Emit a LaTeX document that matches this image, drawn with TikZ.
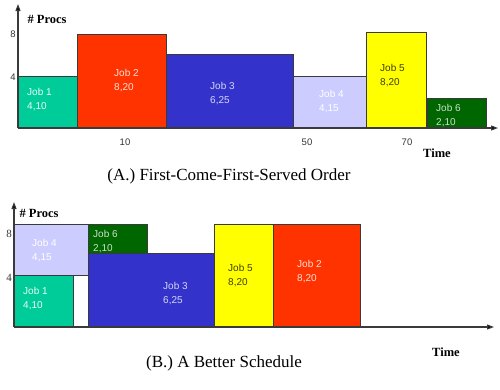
\documentclass[tikz,border=0pt]{standalone}
\usepackage{fontspec}
\setmainfont{Liberation Serif}
\newfontfamily\boxfont{Liberation Sans}
\usetikzlibrary{arrows.meta}
\definecolor{cjone}{HTML}{00CC99}
\definecolor{cjtwo}{HTML}{FF3300}
\definecolor{cjthree}{HTML}{3333CC}
\definecolor{cjfour}{HTML}{CCCCFF}
\definecolor{cjfive}{HTML}{FFFF00}
\definecolor{cjsix}{HTML}{006600}
\definecolor{edgegray}{HTML}{3A3A3A}
\definecolor{ticktext}{HTML}{333333}
\tikzset{
  jobbox/.style={draw=edgegray, line width=0.9pt, inner sep=0pt, outer sep=0pt, anchor=north west},
  joblabel/.style={anchor=north west, inner sep=0pt, align=left, font={\boxfont\fontsize{10}{14.5}\selectfont}},
  axisline/.style={draw=edgegray, line width=1.1pt},
  axisarrow/.style={axisline, -{Triangle[length=7pt,width=5pt,fill=black]}},
  ticklab/.style={inner sep=0pt, text=ticktext, font={\boxfont\fontsize{9.5}{10}\selectfont}},
  serifticklab/.style={inner sep=0pt, text=ticktext, font={\fontsize{11}{12}\selectfont}},
  axlabel/.style={inner sep=0pt, font={\bfseries\fontsize{12.5}{13}\selectfont}},
  caption/.style={inner sep=0pt, font={\fontsize{17}{19}\selectfont}}
}
\begin{document}
\begin{tikzpicture}[x=1pt,y=-1pt]
\useasboundingbox (0,0) rectangle (500,389);
% ---------- (A) ----------
\coordinate (oA) at (18,128);
\coordinate (yA) at (18,4);
\coordinate (xA) at (498,128);
\node[jobbox, fill=cjone,   minimum width=59pt,  minimum height=52pt] (a1) at (18,76) {};
\node[jobbox, fill=cjtwo,   minimum width=89pt,  minimum height=94pt] (a2) at (77,34) {};
\node[jobbox, fill=cjthree, minimum width=127pt, minimum height=74pt] (a3) at (166,54) {};
\node[jobbox, fill=cjfour,  minimum width=73pt,  minimum height=52pt] (a4) at (293,76) {};
\node[jobbox, fill=cjfive,  minimum width=60pt,  minimum height=96pt] (a5) at (366,32) {};
\node[jobbox, fill=cjsix,   minimum width=59pt,  minimum height=30pt] (a6) at (427,98) {};
\draw[axisarrow] (oA) -- (yA);
\draw[axisarrow] (oA) -- (xA);
\node[joblabel, text=white!92!cjone] (ta1) at (27,88) {Job 1\\4,10};
\node[joblabel, text=white!85!cjtwo] (ta2) at (114,69) {Job 2\\8,20};
\node[joblabel, text=white!80!cjthree] (ta3) at (210,82) {Job 3\\6,25};
\node[joblabel, text=white] (ta4) at (319,90) {Job 4\\4,15};
\node[joblabel, text=black!75!cjfive] (ta5) at (380,64) {Job 5\\8,20};
\node[joblabel, text=white!80!cjsix] (ta6) at (436,104) {Job 6\\2,10};
\node[axlabel] (pa) at (47,19) {\# Procs};
\node[ticklab] (ya8) at (13,34) {8};
\node[ticklab] (ya4) at (13,77) {4};
\node[ticklab] (xa10) at (125,142) {10};
\node[ticklab] (xa50) at (307,142) {50};
\node[ticklab] (xa70) at (407,142) {70};
\node[axlabel] (ta) at (437,153) {Time};
\node[caption] (ca) at (229,176) {(A.) First-Come-First-Served Order};
% ---------- (B) ----------
\coordinate (oB) at (14,327);
\coordinate (yB) at (14,202);
\coordinate (xB) at (494,327);
\node[jobbox, fill=cjfour,  minimum width=74pt,  minimum height=51pt]  (b4) at (14,224) {};
\node[jobbox, fill=cjone,   minimum width=59pt,  minimum height=52pt]  (b1) at (14,275) {};
\node[jobbox, fill=cjsix,   minimum width=59pt,  minimum height=29pt]  (b6) at (88,224) {};
\node[jobbox, fill=cjthree, minimum width=126pt, minimum height=74pt]  (b3) at (88,253) {};
\node[jobbox, fill=cjfive,  minimum width=59pt,  minimum height=103pt] (b5) at (214,224) {};
\node[jobbox, fill=cjtwo,   minimum width=87pt,  minimum height=103pt] (b2) at (273,224) {};
\draw[axisarrow] (oB) -- (yB);
\draw[axisarrow] (oB) -- (xB);
\node[joblabel, text=white] (tb4) at (32,239) {Job 4\\4,15};
\node[joblabel, text=white!92!cjone] (tb1) at (23,287) {Job 1\\4,10};
\node[joblabel, text=white!80!cjsix] (tb6) at (93,230) {Job 6\\2,10};
\node[joblabel, text=white!80!cjthree] (tb3) at (163,282) {Job 3\\6,25};
\node[joblabel, text=black!75!cjfive] (tb5) at (228,264) {Job 5\\8,20};
\node[joblabel, text=white!85!cjtwo] (tb2) at (297,260) {Job 2\\8,20};
\node[axlabel] (pb) at (39,213) {\# Procs};
\node[serifticklab] (yb8) at (9,234) {8};
\node[serifticklab] (yb4) at (9,278) {4};
\node[axlabel] (tbt) at (446,352) {Time};
\node[caption] (cb) at (224,363) {(B.) A Better Schedule};
\end{tikzpicture}
\end{document}
